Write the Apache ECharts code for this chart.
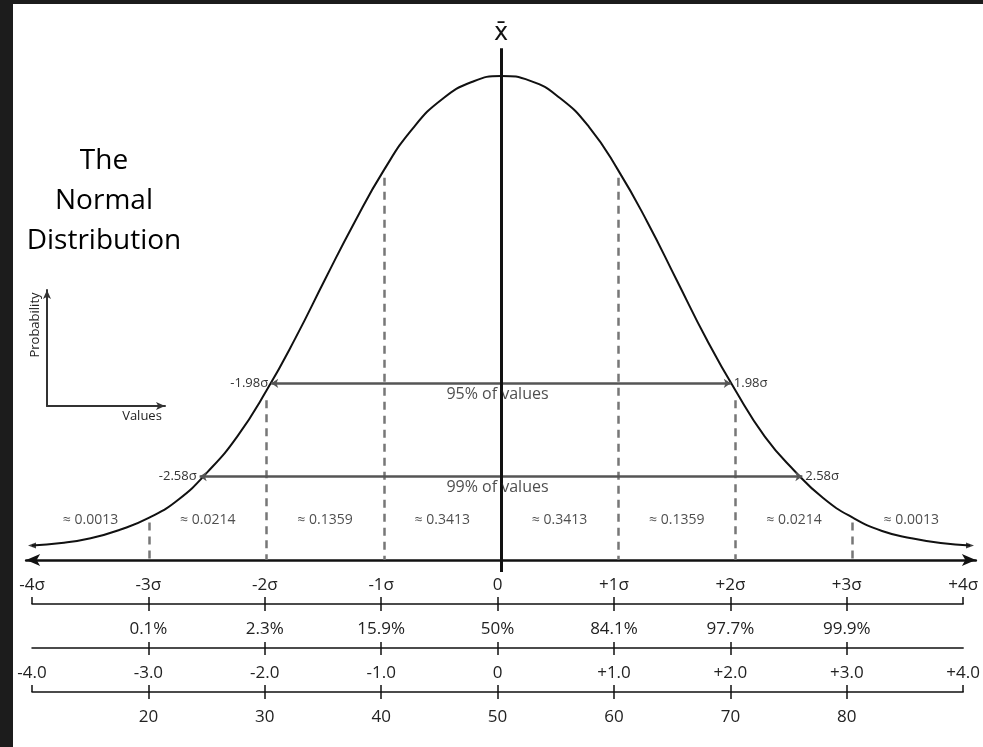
<!DOCTYPE html>
<html>
<head>
<meta charset="utf-8">
<script src="https://cdn.jsdelivr.net/npm/echarts@6/dist/echarts.min.js"></script>
<style>
html, body { margin: 0; padding: 0; background: #fff; }
#main { width: 983px; height: 747px; }
</style>
</head>
<body>
<div id="main"></div>
<script>
// curve heights, x in sigma units
const sigmaX = [-4, -3.75, -3.5, -3.25, -3, -2.75, -2.5, -2.25, -2, -1.75, -1.5, -1.25, -1, -0.75, -0.5, -0.25,
  0, 0.25, 0.5, 0.75, 1, 1.25, 1.5, 1.75, 2, 2.25, 2.5, 2.75, 3, 3.25, 3.5, 3.75, 4]
const curveY = [0.012, 0.014, 0.018, 0.025, 0.035, 0.050, 0.073, 0.102, 0.140, 0.184, 0.232, 0.279, 0.322, 0.357, 0.381, 0.395,
  0.400, 0.396, 0.382, 0.358, 0.322, 0.279, 0.231, 0.183, 0.140, 0.102, 0.074, 0.051, 0.035, 0.024, 0.018, 0.014, 0.012]

// scale rows under the curve
const tickVals = [-4, -3, -2, -1, 0, 1, 2, 3, 4]
const innerTicks = [-3, -2, -1, 0, 1, 2, 3]
const sigmaLabels = ['-4σ', '-3σ', '-2σ', '-1σ', '0', '+1σ', '+2σ', '+3σ', '+4σ']
const pctLabels = ['0.1%', '2.3%', '15.9%', '50%', '84.1%', '97.7%', '99.9%']
const zLabels = ['-4.0', '-3.0', '-2.0', '-1.0', '0', '+1.0', '+2.0', '+3.0', '+4.0']
const scoreLabels = ['20', '30', '40', '50', '60', '70', '80']

// areas between the sigma lines
const areaX = [-3.5, -2.5, -1.5, -0.5, 0.5, 1.5, 2.5, 3.5]
const areaLabels = ['≈ 0.0013', '≈ 0.0214', '≈ 0.1359', '≈ 0.3413', '≈ 0.3413', '≈ 0.1359', '≈ 0.0214', '≈ 0.0013']

// dashed sigma lines and where they start
const dashX = [-3, -2, -1, 1, 2, 3]
const dashTop = [0.031, 0.132, 0.316, 0.316, 0.132, 0.031]

// the 95% / 99% ranges: [left, right, height]
const band95 = [-1.96, 1.96, 0.146]
const band99 = [-2.57, 2.57, 0.069]
const bandLabels = ['-1.98σ', '1.98σ', '-2.58σ', '2.58σ']
const bandText = ['95% of values', '99% of values']

const FONT = 'Open Sans'
const INK = '#111'

const pick = (vals, labels) => v => {
  const i = vals.indexOf(Math.round(v))
  return i < 0 ? '' : labels[i]
}

// one half of a range arrow
function halfLine(x0, x1, y, arrowAtStart, text) {
  const lbl = { show: true, position: arrowAtStart ? 'start' : 'end', formatter: text, color: '#333', fontSize: 13, fontFamily: FONT, distance: 3 }
  const ls = { color: '#555', width: 2.5, type: 'solid' }
  return [
    { coord: [x0, y], symbol: arrowAtStart ? 'arrow' : 'none', symbolSize: 7, lineStyle: ls, label: lbl },
    { coord: [x1, y], symbol: arrowAtStart ? 'none' : 'arrow', symbolSize: 7, lineStyle: ls, label: lbl }
  ]
}

const lineData = []
dashX.forEach((x, i) => {
  const ls = { color: '#777', width: 2.5, type: [8, 6] }
  lineData.push([{ coord: [x, dashTop[i]], lineStyle: ls, label: { show: false } }, { coord: [x, 0], lineStyle: ls, label: { show: false } }])
})
lineData.push(halfLine(band95[0], 0, band95[2], true, bandLabels[0]))
lineData.push(halfLine(0, band95[1], band95[2], false, bandLabels[1]))
lineData.push(halfLine(band99[0], 0, band99[2], true, bandLabels[2]))
lineData.push(halfLine(0, band99[1], band99[2], false, bandLabels[3]))
// mean line
const meanStyle = { color: INK, width: 3, type: 'solid' }
const meanLabel = { show: true, position: 'end', formatter: 'x̄', fontSize: 24, color: INK, fontFamily: 'DejaVu Sans', distance: 2 }
lineData.push([{ coord: [0, -0.01], lineStyle: meanStyle, label: meanLabel }, { coord: [0, 0.423], lineStyle: meanStyle, label: meanLabel }])

const notes = areaX.map((x, i) => ({ value: [x, 0.033], label: { formatter: areaLabels[i], fontSize: 14 } }))
notes.push({ value: [-0.03, band95[2]], label: { formatter: bandText[0], fontSize: 16, position: 'bottom', distance: 3 } })
notes.push({ value: [-0.03, band99[2]], label: { formatter: bandText[1], fontSize: 16, position: 'bottom', distance: 3 } })

function scaleAxis(offset, opts) {
  return Object.assign({
    type: 'value', gridIndex: 1, position: 'bottom', offset: offset, min: -4, max: 4,
    axisLine: { show: false, onZero: false, lineStyle: { color: INK, width: 1.5 } },
    axisTick: { show: true, inside: false, length: 7, lineStyle: { color: INK, width: 1.5 } },
    axisLabel: { show: false },
    splitLine: { show: false }
  }, opts)
}
const lbl = (vals, labels, margin, inside) => ({
  show: true, inside: !!inside, customValues: vals, formatter: pick(vals, labels),
  margin: margin, fontSize: 17, color: '#222', fontFamily: FONT
})

const chart = echarts.init(document.getElementById('main'))
chart.setOption({
  animation: false,
  backgroundColor: '#fff',
  textStyle: { fontFamily: FONT },
  title: {
    text: 'The\nNormal\nDistribution',
    left: 104, top: 141, padding: 0, textAlign: 'center',
    textStyle: { fontSize: 28, fontWeight: 'normal', color: '#000', lineHeight: 40, fontFamily: FONT }
  },
  grid: [
    { left: 26.14, right: 7.14, top: 27.6, bottom: 162.8 },
    { left: 32, right: 13, top: 400, bottom: 187 },
    { left: 47, top: 290, width: 118, height: 116 }
  ],
  xAxis: [
    {
      type: 'value', gridIndex: 0, min: -4.05, max: 4.05,
      axisLine: { show: true, onZero: true, symbol: ['arrow', 'arrow'], symbolSize: [9, 14], lineStyle: { color: INK, width: 2.5 } },
      axisTick: { show: false },
      axisLabel: { show: false },
      splitLine: { show: false }
    },
    scaleAxis(44, {
      axisLine: { show: true, onZero: false, lineStyle: { color: INK, width: 1.5 } },
      axisTick: { show: true, inside: true, length: 7, customValues: tickVals, lineStyle: { color: INK, width: 1.5 } },
      axisLabel: lbl(tickVals, sigmaLabels, 10, true)
    }),
    scaleAxis(44, { axisTick: { show: true, length: 7, customValues: innerTicks, lineStyle: { color: INK, width: 1.5 } }, axisLabel: lbl(innerTicks, pctLabels, 17) }),
    scaleAxis(88, { axisLine: { show: true, onZero: false, lineStyle: { color: INK, width: 1.5 } }, axisTick: { show: true, inside: true, length: 6, customValues: innerTicks, lineStyle: { color: INK, width: 1.5 } } }),
    scaleAxis(88, { axisTick: { show: true, length: 7, customValues: innerTicks, lineStyle: { color: INK, width: 1.5 } }, axisLabel: lbl(tickVals, zLabels, 17) }),
    scaleAxis(132, { axisLine: { show: true, onZero: false, lineStyle: { color: INK, width: 1.5 } }, axisTick: { show: true, inside: true, length: 7, customValues: tickVals, lineStyle: { color: INK, width: 1.5 } } }),
    scaleAxis(132, { axisTick: { show: true, length: 7, customValues: innerTicks, lineStyle: { color: INK, width: 1.5 } }, axisLabel: lbl(innerTicks, scoreLabels, 17) }),
    {
      type: 'value', gridIndex: 2, min: 0, max: 1,
      name: 'Values', nameLocation: 'middle', nameGap: 4,
      nameTextStyle: { fontSize: 13, color: '#222', padding: [0, 0, 0, 72] },
      axisLine: { show: true, onZero: false, symbol: ['none', 'arrow'], symbolSize: [6, 9], lineStyle: { color: '#333', width: 2 } },
      axisTick: { show: false }, axisLabel: { show: false }, splitLine: { show: false }
    }
  ],
  yAxis: [
    { type: 'value', gridIndex: 0, min: -0.02, max: 0.44, show: false },
    { type: 'value', gridIndex: 1, min: 0, max: 1, show: false },
    {
      type: 'value', gridIndex: 2, min: 0, max: 1,
      name: 'Probability', nameLocation: 'middle', nameGap: 5, nameRotate: 90,
      nameTextStyle: { fontSize: 13, color: '#222', padding: [0, 0, 0, 46] },
      axisLine: { show: true, onZero: false, symbol: ['none', 'arrow'], symbolSize: [6, 9], lineStyle: { color: '#333', width: 2 } },
      axisTick: { show: false }, axisLabel: { show: false }, splitLine: { show: false }
    }
  ],
  series: [
    {
      name: 'curve', type: 'line', xAxisIndex: 0, yAxisIndex: 0,
      data: sigmaX.map((x, i) => [x, curveY[i]]),
      smooth: true, showSymbol: false, silent: true, z: 3,
      lineStyle: { color: INK, width: 2 },
      markLine: { silent: true, symbol: 'none', animation: false, data: lineData }
    },
    {
      name: 'ends', type: 'scatter', xAxisIndex: 0, yAxisIndex: 0, silent: true, z: 4,
      symbol: 'triangle', symbolSize: [6, 8],
      itemStyle: { color: INK },
      data: [
        { value: [sigmaX[0], curveY[0]], symbolRotate: 90 },
        { value: [sigmaX[sigmaX.length - 1], curveY[curveY.length - 1]], symbolRotate: -90 }
      ]
    },
    {
      name: 'notes', type: 'scatter', xAxisIndex: 0, yAxisIndex: 0, silent: true, z: 5,
      symbolSize: 0,
      label: { show: true, position: 'inside', color: '#222', fontFamily: FONT },
      data: notes
    }
  ],
  graphic: [
    { type: 'rect', shape: { x: 0, y: 0, width: 983, height: 4 }, style: { fill: '#1c1c1c' }, z: 100 },
    { type: 'rect', shape: { x: 0, y: 0, width: 13, height: 747 }, style: { fill: '#1c1c1c' }, z: 100 }
  ]
})
</script>
</body>
</html>
